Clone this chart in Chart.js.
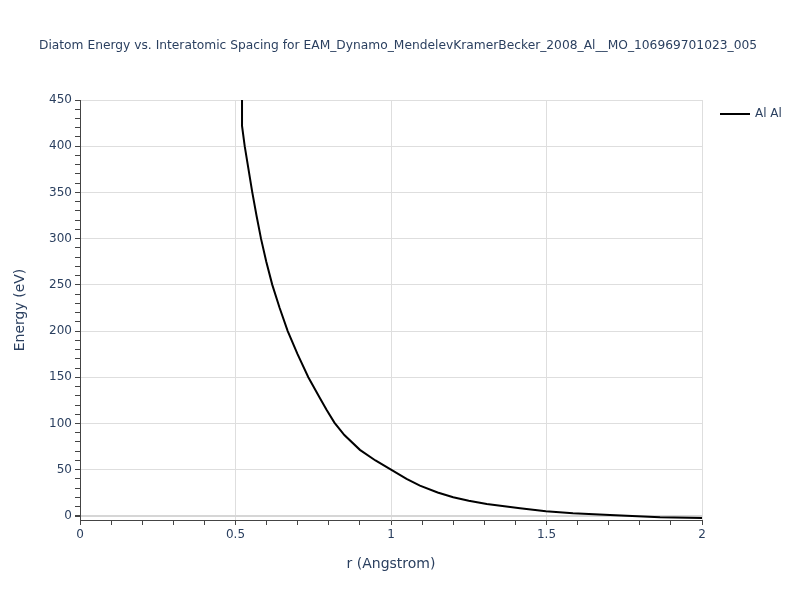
<!DOCTYPE html>
<html>
<head>
<meta charset="utf-8">
<script src="https://cdn.jsdelivr.net/npm/chart.js@4/dist/chart.umd.min.js"></script>
<style>
html,body{margin:0;padding:0;background:#fff;}
#wrap{width:800px;height:600px;position:relative;}
</style>
</head>
<body>
<div id="wrap"><canvas id="c" width="800" height="600"></canvas></div>
<script>
const chartTitle = "Diatom Energy vs. Interatomic Spacing for EAM_Dynamo_MendelevKramerBecker_2008_Al__MO_106969701023_005";
const seriesName = "Al Al";
const xLabel = "r (Angstrom)";
const yLabel = "Energy (eV)";
const rValues = [0.519, 0.521, 0.5296, 0.554, 0.5675, 0.582, 0.599, 0.6183, 0.642, 0.6679, 0.6995, 0.7341, 0.7717, 0.7932, 0.818, 0.85, 0.9, 0.95, 1.0, 1.05, 1.093, 1.15, 1.2, 1.25, 1.308, 1.415, 1.498, 1.585, 1.704, 1.865, 2.0];
const energyValues = [2000, 421.9, 400, 350, 325, 300, 275, 250, 225, 200, 175, 150, 127.3, 114.7, 101, 87.5, 71.5, 60, 50.1, 40, 32.7, 25.3, 20.2, 16.5, 13, 8.3, 5.1, 3.0, 1.1, -1.4, -2.2];
const xMajorTicks = [0, 0.5, 1, 1.5, 2];
const yMajorTicks = [0, 50, 100, 150, 200, 250, 300, 350, 400, 450];

const textColor = '#2a3f5f';
const fontFamily = '"DejaVu Sans", Verdana, sans-serif';

const points = rValues.map((r, i) => ({x: r, y: energyValues[i]}));

const isMajorX = v => xMajorTicks.some(t => Math.abs(t - v) < 1e-9);
const isMajorY = v => yMajorTicks.some(t => Math.abs(t - v) < 1e-9);

const overlay = {
  id: 'overlay',
  afterDraw(chart) {
    const ctx = chart.ctx;
    ctx.save();
    ctx.fillStyle = textColor;
    ctx.font = '12.25px ' + fontFamily;
    ctx.textAlign = 'center';
    ctx.textBaseline = 'middle';
    ctx.fillText(chartTitle, 398, 46);
    // legend
    ctx.strokeStyle = '#000';
    ctx.lineWidth = 2;
    ctx.beginPath();
    ctx.moveTo(720, 114);
    ctx.lineTo(750, 114);
    ctx.stroke();
    ctx.font = '12px ' + fontFamily;
    ctx.textAlign = 'left';
    ctx.fillText(seriesName, 755, 114);
    ctx.restore();
  }
};

new Chart(document.getElementById('c'), {
  type: 'line',
  data: {
    datasets: [{
      label: seriesName,
      data: points,
      borderColor: '#000',
      borderWidth: 2,
      pointRadius: 0,
      tension: 0,
      fill: false
    }]
  },
  options: {
    responsive: false,
    animation: false,
    layout: {padding: {left: 0, right: 98, top: 100, bottom: 0}},
    plugins: {legend: {display: false}, title: {display: false}, tooltip: {enabled: false}},
    scales: {
      x: {
        type: 'linear',
        min: 0, max: 2,
        afterBuildTicks: s => { const t = []; for (let k = 0; k <= 20; k++) t.push({value: k / 10}); s.ticks = t; },
        afterFit: s => { s.height = 80; },
        border: {display: true, color: '#444', width: 1},
        grid: {
          drawTicks: true, tickLength: 5,
          color: c => (isMajorX(c.tick.value) && c.tick.value > 0) ? '#dedede' : 'rgba(0,0,0,0)',
          tickColor: '#444',
          lineWidth: 1
        },
        ticks: {
          autoSkip: false, maxRotation: 0, padding: 3,
          color: textColor, font: {family: fontFamily, size: 12},
          callback: v => isMajorX(v) ? String(Math.round(v * 10) / 10) : ''
        },
        title: {display: true, text: xLabel, color: textColor, font: {family: fontFamily, size: 14}, padding: {top: 0, bottom: 27}}
      },
      y: {
        type: 'linear',
        min: -4.4, max: 450,
        afterBuildTicks: s => { const t = []; for (let k = 0; k <= 45; k++) t.push({value: k * 10}); s.ticks = t; },
        afterFit: s => { s.width = 80; },
        border: {display: true, color: '#444', width: 1},
        grid: {
          drawTicks: true, tickLength: 5,
          color: c => c.tick.value === 0 ? '#d6d6d6' : (isMajorY(c.tick.value) ? '#dedede' : 'rgba(0,0,0,0)'),
          lineWidth: c => c.tick.value === 0 ? 2 : 1,
          tickColor: '#444'
        },
        ticks: {
          autoSkip: false, padding: 3,
          color: textColor, font: {family: fontFamily, size: 12},
          callback: v => isMajorY(v) ? String(v) : ''
        },
        title: {display: true, text: yLabel, color: textColor, font: {family: fontFamily, size: 14}, padding: {top: 12, bottom: 0}}
      }
    }
  },
  plugins: [overlay]
});
</script>
</body>
</html>
